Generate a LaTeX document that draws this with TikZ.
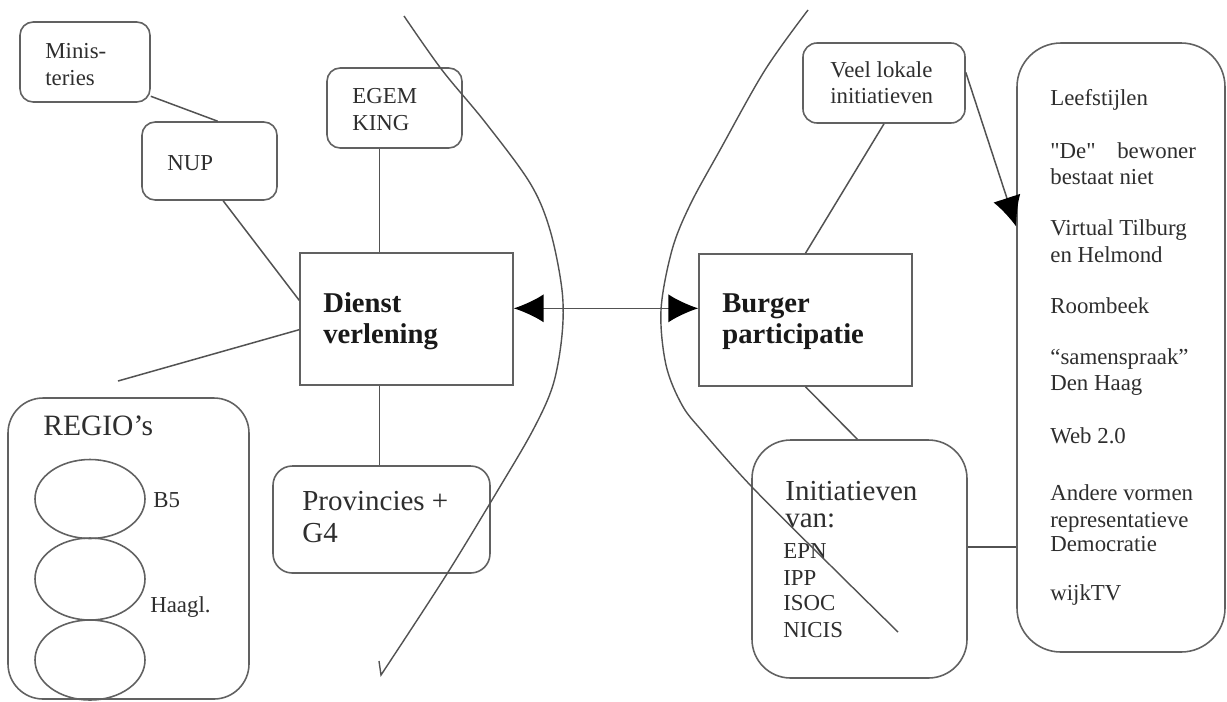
\documentclass[tikz,border=0pt]{standalone}
\usepackage{fontspec}
\setmainfont{Liberation Serif}
\usetikzlibrary{arrows.meta,calc,fit,shapes.geometric}
\begin{document}
\begin{tikzpicture}[x=0.02cm,y=-0.02cm,
  ln/.style={draw=black!62,line width=0.9pt},
  rbx/.style={ln,rectangle,rounded corners=#1,inner sep=0pt,fill=white},
  sqbx/.style={ln,rectangle,inner sep=0pt,fill=white},
  con/.style={draw=black!68,line width=0.85pt},
  curve/.style={draw=black!68,line width=0.8pt},
  bigtip/.style={-{Latex[length=17pt,width=16pt,color=black]}},
  dbltip/.style={{Latex[length=17pt,width=16pt,color=black]}-{Latex[length=17pt,width=16pt,color=black]}},
  txt/.style={anchor=base west,inner sep=0pt,text=black!82},
  fs/.style={font=\fontsize{13}{15}\selectfont},
  fl/.style={font=\fontsize{16.5}{19}\selectfont},
  fb/.style={font=\fontsize{16.3}{19}\selectfont\bfseries,text=black!90}
]
\useasboundingbox (0,0) rectangle (1227,701);
\fill[white] (0,0) rectangle (1227,701);

% boxes
\node[rbx=7.5pt,fit={(20,22) (150,102)}] (mini) {};
\node[rbx=7.5pt,fit={(142,122) (277,200)}] (nup) {};
\node[rbx=7.5pt,fit={(327,68) (462,148)}] (egem) {};
\node[sqbx,fit={(300,253) (513,385)}] (dienst) {};
\node[rbx=11pt,fit={(273,466) (490,573)}] (prov) {};
\node[rbx=20pt,fit={(8,398) (249,699)}] (regio) {};
\node[ln,ellipse,inner sep=0pt,minimum width=110*0.02cm,minimum height=79*0.02cm] (e1) at (90,499) {};
\node[ln,ellipse,inner sep=0pt,minimum width=110*0.02cm,minimum height=82*0.02cm] (e2) at (90,579) {};
\node[ln,ellipse,inner sep=0pt,minimum width=110*0.02cm,minimum height=80*0.02cm] (e3) at (90,660) {};
\node[sqbx,fit={(699,254) (912,386)}] (burger) {};
\node[rbx=8pt,fit={(803,43) (965,123)}] (veel) {};
\node[rbx=22pt,fit={(752,440) (967,678)}] (init) {};
\node[rbx=25pt,fit={(1017,43) (1225,652)}] (rbox) {};

% connectors
\draw[con] ($(mini.north east)!0.92!(mini.south east)$) -- ($(nup.north west)!0.56!(nup.north east)$);
\draw[con] ($(nup.south west)!0.6!(nup.south east)$) -- ($(dienst.north west)!0.36!(dienst.south west)$);
\coordinate (rfree) at (118,381);
\draw[con] ($(dienst.north west)!0.58!(dienst.south west)$) -- (rfree);
\coordinate (egemS) at ($(egem.south west)!0.39!(egem.south east)$);
\draw[con] (egemS) -- (egemS |- dienst.north);
\draw[con] (egemS |- dienst.south) -- (egemS |- prov.north);
\coordinate (arrL) at ($(dienst.north east)!0.42!(dienst.south east)$);
\draw[con,dbltip] (arrL) -- (arrL -| burger.west);
\draw[con] (veel.south) -- (burger.north);
\coordinate (rtip) at ($(rbox.north west)!0.302!(rbox.south west)$);
\draw[con,bigtip] ($(veel.north east)!0.37!(veel.south east)$) -- (rtip);
\draw[con] (burger.south) -- ($(init.north west)!0.49!(init.north east)$);
\coordinate (initE) at ($(init.north east)!0.45!(init.south east)$);
\draw[con] (initE) -- (initE -| rbox.west);

% texts
\node[txt,fs] (t1) at (45,58) {Minis-};
\node[txt,fs] (t2) at (45,85) {teries};
\node[txt,fs] (t3) at (167,170) {NUP};
\node[txt,fs] (t4) at (352,103) {EGEM};
\node[txt,fs] (t5) at (352,130) {KING};
\node[txt,fb] (t6) at (323,312) {Dienst};
\node[txt,fb] (t7) at (323,343) {verlening};
\node[txt,fb] (t8) at (722,312) {Burger};
\node[txt,fb] (t9) at (722,343) {participatie};
\node[txt,fl] (t10) at (302,510) {Provincies +};
\node[txt,fl] (t11) at (302,542) {G4};
\node[txt,font=\fontsize{16.8}{19}\selectfont] (t12) at (43,435) {REGIO’s};
\node[txt,fs] (t13) at (153,507) {B5};
\node[txt,fs] (t14) at (150,612) {Haagl.};
\node[txt,fs] (t15) at (830,77) {Veel lokale};
\node[txt,fs] (t16) at (830,103) {initiatieven};
\node[txt,fl] (t17) at (785,500) {Initiatieven};
\node[txt,fl] (t18) at (785,527) {van:};
\node[txt,fs] (t19) at (783,558) {EPN};
\node[txt,fs] (t20) at (783,585) {IPP};
\node[txt,fs] (t21) at (783,610) {ISOC};
\node[txt,fs] (t22) at (783,637) {NICIS};
\node[txt,fs] (r1) at (1050,105) {Leefstijlen};
\node[txt,fs] (r2) at (1050,158) {\textquotedbl De\textquotedbl\hspace{0.7em} bewoner};
\node[txt,fs] (r3) at (1050,184) {bestaat niet};
\node[txt,fs] (r4) at (1050,235) {Virtual Tilburg};
\node[txt,fs] (r5) at (1050,262) {en Helmond};
\node[txt,fs] (r6) at (1050,313) {Roombeek};
\node[txt,fs] (r7) at (1050,364) {“samenspraak”};
\node[txt,fs] (r8) at (1050,390) {Den Haag};
\node[txt,fs] (r9) at (1050,443) {Web 2.0};
\node[txt,fs] (r10) at (1050,500) {Andere vormen};
\node[txt,fs] (r11) at (1050,527) {representatieve};
\node[txt,fs] (r12) at (1050,551) {Democratie};
\node[txt,fs] (r13) at (1050,600) {wijkTV};

% curves
\draw[curve] plot[smooth,tension=0.55] coordinates {(404,16) (442,70) (485,122) (530,183) (550,230) (562,290) (562,335) (553,385) (533,430) (498,490) (445,577) (381,675)} -- (379,661);
\draw[curve] plot[smooth,tension=0.55] coordinates {(808,10) (765,70) (720,150) (690,205) (672,250) (661,310) (666,365) (682,405) (703,432) (752,487) (830,565) (898,632)};
\end{tikzpicture}
\end{document}
